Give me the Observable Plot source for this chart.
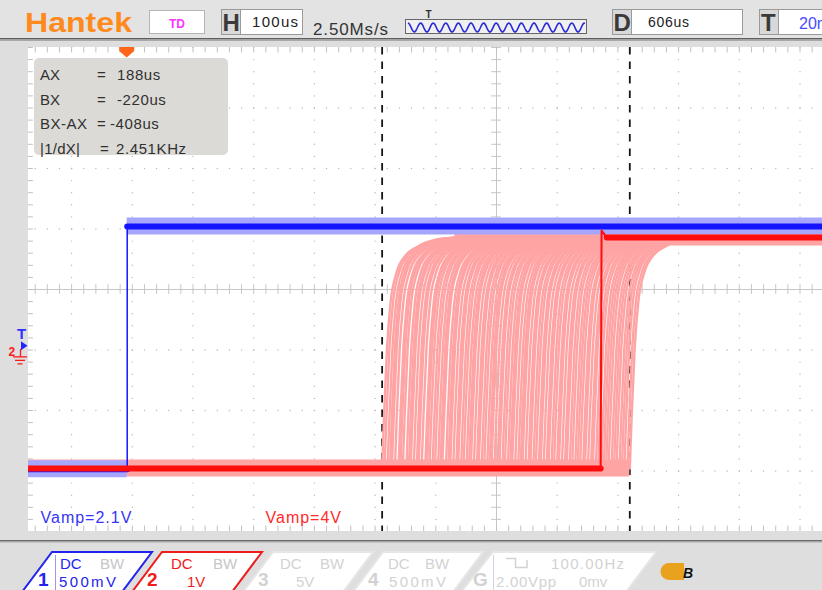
<!DOCTYPE html>
<html><head><meta charset="utf-8">
<script src="https://cdn.jsdelivr.net/npm/d3@7"></script>
<script src="https://cdn.jsdelivr.net/npm/@observablehq/plot@0.6"></script>
<style>
html,body{margin:0;padding:0;background:#dedede;}
#wrap{position:relative;width:822px;height:590px;overflow:hidden;background:#dedede;font-family:"Liberation Sans",Arial,sans-serif;}
#bg,#ov{position:absolute;left:0;top:0;}
#ov{pointer-events:none;}
#plot{position:absolute;left:28px;top:47px;}
#plot text{letter-spacing:1px;}
</style></head>
<body><div id="wrap"><div id="bg"></div><div id="plot"></div><div id="ov"></div></div>
<script>
// ---------------- DATA ----------------
const timePerDiv = 100;          // us per division (H = 100us)
const centerTime = -31.6;        // time at screen centre, us
const cursorA = 188;             // us
const cursorB = -220;            // us
const blueEdge = -640;           // CH1 rising edge, us
const redEdge = 140;             // CH2 latest rising edge, us
const blueLevels = [-2.97, 1.04]; // CH1 low/high, divisions
const redLevels = [-2.96, 0.86];  // CH2 low/high, divisions
// persisted CH2 edges (us), read from the pink region
const pinkEdges = [-220,-216,-211,-207,-204,-199,-193,-190,-186,-180,-176,-173,-168,-163,-160,-155,-149,-146,-142,-137,-133,-128,-124,-121,-115,-111,-108,-103,-98,-95,-90,-86,-81,-77,-74,-69,-64,-61,-56,-52,-47,-43,-40,-35,-30,-27,-22,-18,-13,-9,-6,-1,4,8,11,16,21,24,29,33,38,41,46,51,54,59,63,68,71,76,81,84,89,93,98,102,106,111,114,119,124,127,132,136,141,145,149,153,158,162,166,171,175,179,184,188];
// shape of each persisted rise: time after edge (us) and fraction of swing
const riseDt =   [0, 3, 8, 14, 24, 38, 58, 88, 120];
const riseFrac = [0, 0.22, 0.52, 0.72, 0.85, 0.92, 0.96, 0.99, 1];
const redStepDt = [0, 1.5, 10];
const redStepFrac = [0, 1.03, 1];
const triggerLevel = -0.94;      // divisions
const cursorLabels = ["AX", "BX", "BX-AX", "|1/dX|"];
const cursorValues = ["188us", "-220us", "-408us", "2.451KHz"];
const vampTexts = ["Vamp=2.1V", "Vamp=4V"];

// ---------------- LAYOUT ----------------
const W = 794, H = 484;
const pxPerUs = 0.607;
const xmin = centerTime - 468 / pxPerUs;
const xmax = centerTime + (W - 468) / pxPerUs;
const BLUE = "#1414ff", LBLUE = "#a6a6ff", RED = "#ff0c0c", PINK = "#ffa4a4";
const band = 0.14;

const step = timePerDiv / 5;
const minorXs = d3.range(Math.ceil((xmin - centerTime) / step), Math.floor((xmax - centerTime) / step) + 1).map(k => centerTime + k * step);
const majorXs = minorXs.filter(t => Math.abs(Math.round((t - centerTime) / step)) % 5 === 0 && Math.abs(t - centerTime) > 1e-6);
const minorYs = d3.range(-20, 21).map(k => k * 0.2);
const majorYs = [-3, -2, -1, 1, 2, 3];
const gridPts = [
  ...majorXs.flatMap(t => minorYs.map(v => ({t, v}))),
  ...majorYs.flatMap(v => minorXs.map(t => ({t, v})))
];

const pinkTraces = pinkEdges.flatMap((e, i) => riseDt.map((dt, j) => ({id: i, t: e + dt, v: redLevels[0] + riseFrac[j] * (redLevels[1] - redLevels[0])})));
const maxEdge = d3.max(pinkEdges), minEdge = d3.min(pinkEdges);
const pinkLow = [{t: xmin, v: redLevels[0]}, {t: maxEdge, v: redLevels[0]}];
const pinkHigh = [{t: minEdge + riseDt[riseDt.length - 1], v: redLevels[1]}, {t: xmax, v: redLevels[1]}];
const blueLow = [{t: xmin, v: blueLevels[0]}, {t: blueEdge, v: blueLevels[0]}];
const blueHigh = [{t: blueEdge, v: blueLevels[1]}, {t: xmax, v: blueLevels[1]}];
const blueRise = [{t: blueEdge, v: blueLevels[0]}, {t: blueEdge, v: blueLevels[1]}];
const redLow = [{t: xmin, v: redLevels[0]}, {t: redEdge, v: redLevels[0]}];
const redRise = redStepDt.map((dt, j) => ({t: redEdge + dt, v: redLevels[0] + redStepFrac[j] * (redLevels[1] - redLevels[0])}));
const redHigh = [{t: redEdge + redStepDt[redStepDt.length - 1], v: redLevels[1]}, {t: xmax, v: redLevels[1]}];

const bandArea = (data, fill) => Plot.areaY(data, {x: "t", y1: d => d.v - band, y2: d => d.v + band, fill});

const plot = Plot.plot({
  width: W, height: H, margin: 0,
  style: {background: "#ffffff", fontFamily: "Liberation Sans, Arial, sans-serif"},
  x: {domain: [xmin, xmax], axis: null},
  y: {domain: [-4, 4], axis: null},
  marks: [
    Plot.dot(gridPts, {x: "t", y: "v", r: 0.7, fill: "#b9b9b9", stroke: null}),
    Plot.ruleX([centerTime], {stroke: "#c6c6c6"}),
    Plot.ruleY([0], {stroke: "#c6c6c6"}),
    Plot.ruleY(minorYs, {y: d => d, x1: () => centerTime - 8, x2: () => centerTime + 8, stroke: "#c6c6c6"}),
    Plot.ruleX(minorXs, {x: d => d, y1: () => -0.08, y2: () => 0.08, stroke: "#c6c6c6"}),
    Plot.ruleX(minorXs, {x: d => d, y1: () => 4, y2: () => 3.91, stroke: "#c0c0c0"}),
    Plot.ruleX(minorXs, {x: d => d, y1: () => -4, y2: () => -3.91, stroke: "#c0c0c0"}),
    Plot.ruleY(minorYs, {y: d => d, x1: () => xmin, x2: () => xmin + 8, stroke: "#c0c0c0"}),
    Plot.ruleX([cursorB, cursorA], {stroke: "#151515", strokeWidth: 1.8, strokeDasharray: "7.5,7"}),
    // CH2 persistence
    bandArea(pinkLow, PINK),
    bandArea(pinkHigh, PINK),
    Plot.line(pinkTraces, {x: "t", y: "v", z: "id", stroke: PINK, strokeWidth: 2.4, curve: "monotone-x"}),
    // CH1
    bandArea(blueLow, LBLUE),
    bandArea(blueHigh, LBLUE),
    Plot.line(blueLow, {x: "t", y: "v", stroke: BLUE, strokeWidth: 6}),
    Plot.line(blueHigh, {x: "t", y: "v", stroke: BLUE, strokeWidth: 6}),
    Plot.line(blueRise, {x: "t", y: "v", stroke: BLUE, strokeWidth: 1.5}),
    // CH2 current trace
    Plot.line(redLow, {x: "t", y: "v", stroke: RED, strokeWidth: 6}),
    Plot.line(redHigh, {x: "t", y: "v", stroke: RED, strokeWidth: 6}),
    Plot.line(redRise, {x: "t", y: "v", stroke: RED, strokeWidth: 2}),
    Plot.text([vampTexts[0]], {text: d => d, frameAnchor: "bottom-left", dx: 12, dy: -9, textAnchor: "start", lineAnchor: "bottom", fill: "#3535f5", fontSize: 16}),
    Plot.text([vampTexts[1]], {text: d => d, frameAnchor: "bottom-left", dx: 237, dy: -9, textAnchor: "start", lineAnchor: "bottom", fill: "#ff2a2a", fontSize: 16})
  ]
});
document.getElementById("plot").appendChild(plot);

const sx = plot.scale("x"), sy = plot.scale("y");
const X = t => 28 + sx.apply(t), Y = v => 47 + sy.apply(v);

// ---------------- BACKGROUND (header / footer / side) ----------------
const zig = d3.range(0, 177.5, 1).map(i => [408 + i, 27.5 - 4.5 * Math.cos(i / 12.6 * 2 * Math.PI)]);
const zigPath = d3.line()(zig);
const F = 'font-family="Liberation Sans, Arial, sans-serif"';
function badge(x0, col, fill = "#fff") {
  return `<polygon points="${x0 + 30},552 ${x0 + 130},552 ${x0 + 100},592 ${x0},592" fill="${fill}" stroke="${col}" stroke-width="2"/>`;
}
const bg = `
<svg width="822" height="590" ${F}>
<rect width="822" height="590" fill="#dedede"/>
<rect width="822" height="38" fill="#e3e3e3"/>
<rect y="38" width="822" height="1.5" fill="#5e5e5e"/>
<rect y="39.5" width="822" height="1.5" fill="#a8a8a8"/>
<text x="25" y="32" font-size="28" font-weight="bold" fill="#ff8a1c" textLength="107" lengthAdjust="spacingAndGlyphs">Hantek</text>
<rect x="149.5" y="10.5" width="55" height="23" fill="#fff" stroke="#b5b5b5"/>
<text x="177" y="27.5" font-size="12" font-weight="bold" fill="#ff33ff" text-anchor="middle">TD</text>
<rect x="221.5" y="9.5" width="81" height="25" fill="#fff" stroke="#9a9a9a"/>
<rect x="222" y="10" width="18" height="24" fill="#d8d8d8"/>
<line x1="240.5" y1="10" x2="240.5" y2="34" stroke="#9a9a9a"/>
<text x="222.5" y="31" font-size="24" font-weight="bold" fill="#3a3a3a">H</text>
<text x="252" y="27" font-size="15" fill="#222" textLength="46">100us</text>
<text x="313" y="35" font-size="17" fill="#333" textLength="75">2.50Ms/s</text>
<rect x="405.5" y="19.5" width="181" height="14" fill="#f0f0f0" stroke="#666"/>
<path d="${zigPath}" fill="none" stroke="#2a2ad8" stroke-width="1.6"/>
<text x="428.5" y="18" font-size="10" font-weight="bold" fill="#333" text-anchor="middle">T</text>
<rect x="612.5" y="9.5" width="130" height="25" fill="#fff" stroke="#9a9a9a"/>
<rect x="613" y="10" width="18" height="24" fill="#d8d8d8"/>
<line x1="631.5" y1="10" x2="631.5" y2="34" stroke="#9a9a9a"/>
<text x="613.5" y="31" font-size="24" font-weight="bold" fill="#3a3a3a">D</text>
<text x="648" y="27" font-size="14" fill="#222" textLength="41">606us</text>
<rect x="759.5" y="9.5" width="80" height="25" fill="#fff" stroke="#9a9a9a"/>
<rect x="760" y="10" width="18" height="24" fill="#d8d8d8"/>
<line x1="778.5" y1="10" x2="778.5" y2="34" stroke="#9a9a9a"/>
<text x="761" y="31" font-size="24" font-weight="bold" fill="#3a3a3a">T</text>
<text x="799" y="29" font-size="16" fill="#4a4aff">20mV</text>
<rect y="540" width="822" height="1.5" fill="#6a6a6a"/>
<rect y="541.5" width="822" height="1" fill="#a8a8a8"/>
${badge(22, "#2323ee")}
<line x1="55.5" y1="555" x2="55.5" y2="592" stroke="#9a9af0"/>
<text x="38" y="586" font-size="19" font-weight="bold" fill="#2323ee">1</text>
<text x="60" y="569" font-size="15" fill="#2323ee">DC</text>
<text x="100" y="569" font-size="15" fill="#c6c6c6">BW</text>
<text x="59" y="586.5" font-size="15" fill="#2323ee" textLength="57">500mV</text>
${badge(132, "#ee1c1c")}
<text x="147" y="586" font-size="19" font-weight="bold" fill="#ee1c1c">2</text>
<text x="171" y="569" font-size="15" fill="#ee1c1c">DC</text>
<text x="213" y="569" font-size="15" fill="#c6c6c6">BW</text>
<text x="187" y="586.5" font-size="15" fill="#ee1c1c">1V</text>
${badge(243, "#e6e6e6")}
<text x="258" y="586" font-size="19" font-weight="bold" fill="#d2d2d2">3</text>
<text x="280" y="569" font-size="15" fill="#d2d2d2">DC</text>
<text x="320" y="569" font-size="15" fill="#d2d2d2">BW</text>
<text x="296" y="586.5" font-size="15" fill="#d2d2d2">5V</text>
${badge(353, "#e6e6e6")}
<text x="368" y="586" font-size="19" font-weight="bold" fill="#d2d2d2">4</text>
<text x="388" y="569" font-size="15" fill="#d2d2d2">DC</text>
<text x="425" y="569" font-size="15" fill="#d2d2d2">BW</text>
<text x="389" y="586.5" font-size="15" fill="#d2d2d2" textLength="57">500mV</text>
<polygon points="493,552 656,552 626,592 461,592" fill="#fff" stroke="#e6e6e6" stroke-width="2"/>
<line x1="493.5" y1="555" x2="493.5" y2="592" stroke="#d8d0e8"/>
<text x="473" y="586" font-size="19" font-weight="bold" fill="#d2d2d2">G</text>
<path d="M506,558.5 H515.5 V567.5 H527 V560" fill="none" stroke="#d2d2d2" stroke-width="1.5"/>
<text x="551" y="569" font-size="15" fill="#d2d2d2" textLength="73">100.00Hz</text>
<text x="496" y="586.5" font-size="15" fill="#d2d2d2" textLength="60">2.00Vpp</text>
<text x="579" y="586.5" font-size="15" fill="#d2d2d2">0mv</text>
<path d="M669,563 H684 V580 H669 A8.5,8.5 0 0 1 669,563 Z" fill="#e9a21e"/>
<text x="683" y="578" font-size="14" font-weight="bold" font-style="italic" fill="#111">B</text>
</svg>`;
document.getElementById("bg").innerHTML = bg;

// ---------------- OVERLAY (markers, cursor readout) ----------------
const bx = X(blueEdge), ty = Y(triggerLevel);
const rows = cursorLabels.map((l, i) => {
  const y = 80 + i * 24.7;
  const eqX = [97, 97, 97, 100][i];
  const vX = [117, 117, 110, 116][i];
  return `<text x="40" y="${y}" font-size="15" fill="#303030" textLength="${[20, 20, 47, 40][i]}">${l}</text>
<text x="${eqX}" y="${y}" font-size="15" fill="#303030">=</text>
<text x="${vX}" y="${y}" font-size="15" fill="#303030" letter-spacing="0.6">${cursorValues[i]}</text>`;
}).join("");
const ov = `
<svg width="822" height="590" ${F}>
<rect x="34" y="58" width="194" height="97" rx="5" fill="#dcdad6"/>
${rows}
<path d="M${bx - 7.5},47 H${bx + 7.5} V51 L${bx},57.5 L${bx - 7.5},51 Z" fill="#ff661a"/>
<text x="21.5" y="${ty - 7}" font-size="15" font-weight="bold" fill="#3030ff" text-anchor="middle">T</text>
<path d="M21,${ty - 4.5} L27.5,${ty} L21,${ty + 4.5} Z" fill="#2525ff"/>
<text x="8.5" y="${ty + 10}" font-size="12" font-weight="bold" fill="#ff1a1a">2</text>
<line x1="20.5" y1="${ty + 3}" x2="20.5" y2="${ty + 11}" stroke="#ff1a1a" stroke-width="1.3"/>
<line x1="13" y1="${ty + 11}" x2="27" y2="${ty + 11}" stroke="#ff1a1a" stroke-width="1.3"/>
<line x1="15" y1="${ty + 14.5}" x2="25" y2="${ty + 14.5}" stroke="#ff1a1a" stroke-width="1.3"/>
<line x1="17.5" y1="${ty + 18}" x2="22.5" y2="${ty + 18}" stroke="#ff1a1a" stroke-width="1.3"/>
</svg>`;
document.getElementById("ov").innerHTML = ov;
</script>
</body></html>
